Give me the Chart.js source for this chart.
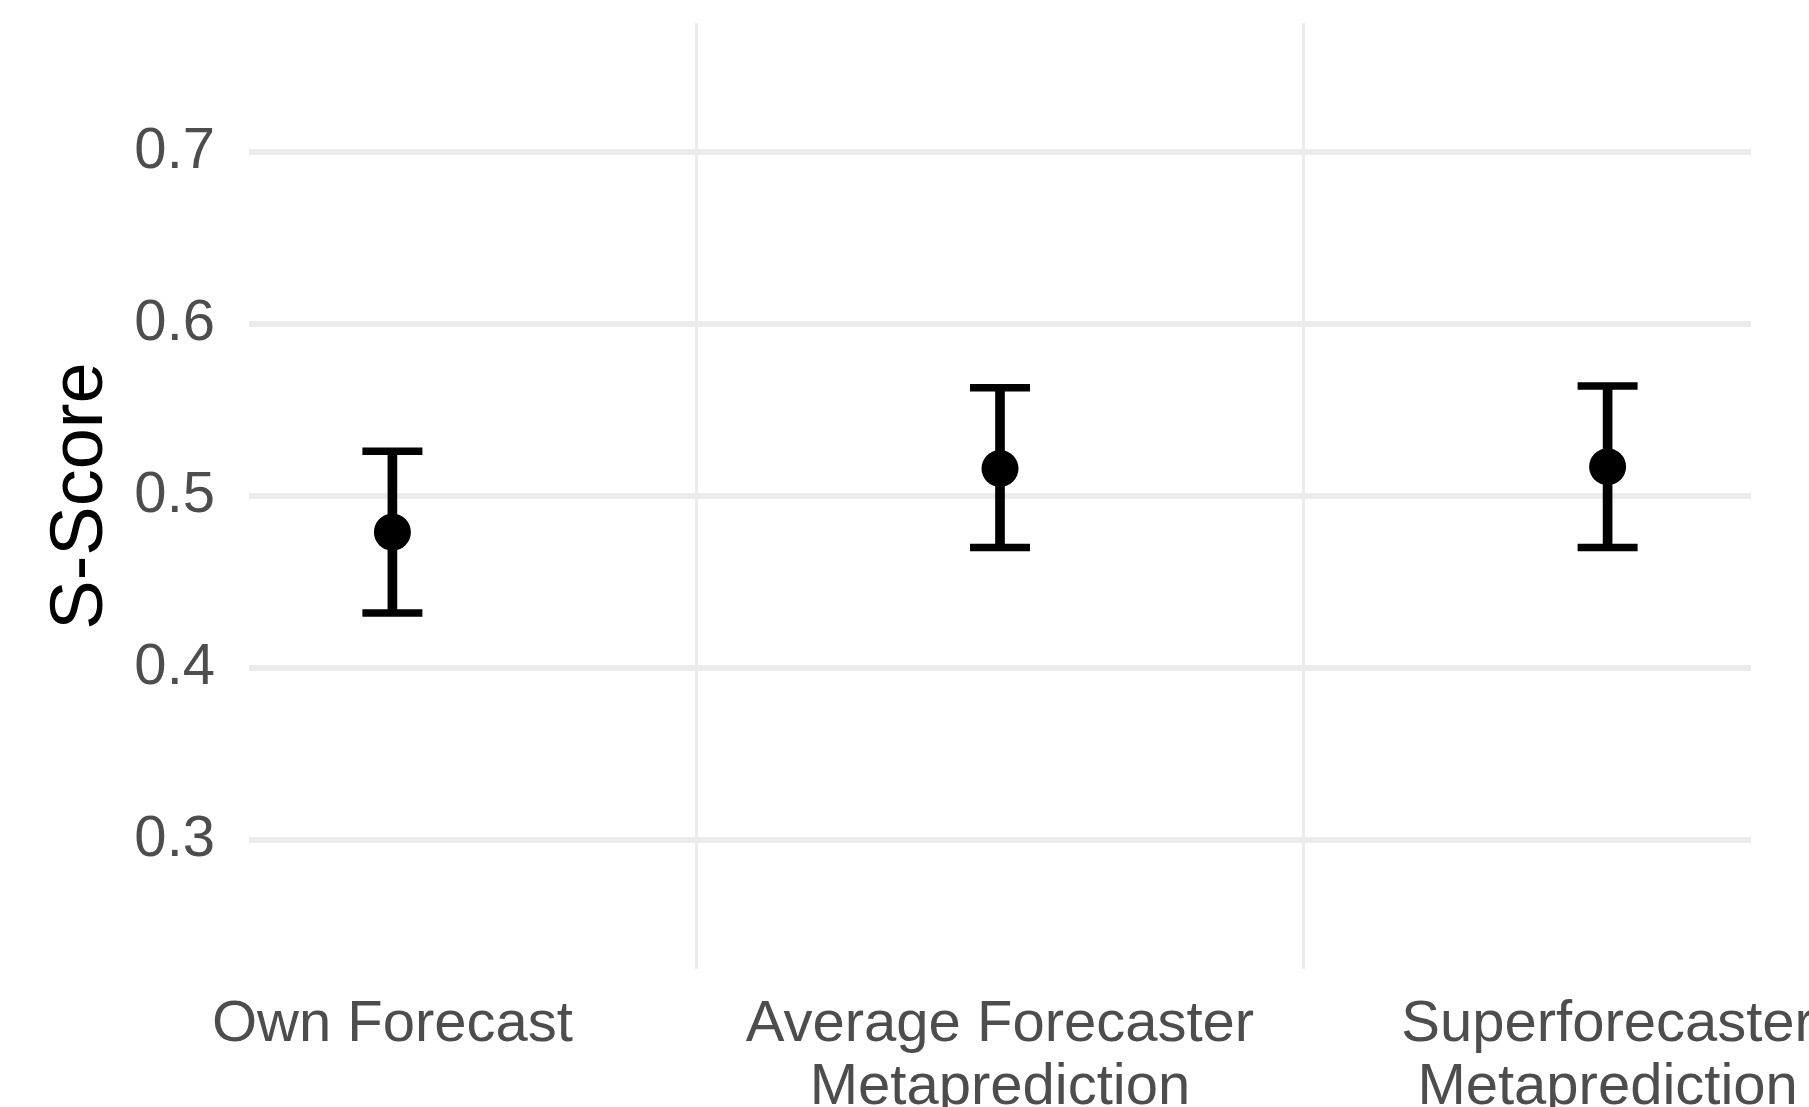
<!DOCTYPE html>
<html>
<head>
<meta charset="utf-8">
<script src="https://cdn.jsdelivr.net/npm/chart.js@4/dist/chart.umd.min.js"></script>
<style>
  body { margin: 0; background: #ffffff; }
  canvas { display: block; }
</style>
</head>
<body>
<canvas id="scoreChart" width="1809" height="1107"></canvas>
<script>
'use strict';

const categories = [
  ['Own Forecast'],
  ['Average Forecaster', 'Metaprediction'],
  ['Superforecaster', 'Metaprediction']
];
const meanScore = [0.479, 0.516, 0.517];
const lowerCI = [0.432, 0.470, 0.470];
const upperCI = [0.526, 0.563, 0.564];
const yTicks = [0.3, 0.4, 0.5, 0.6, 0.7];

const FONT = '"Liberation Sans", Arial, Helvetica, sans-serif';

function ScoreChart(){
  let context = document.querySelector('#scoreChart').getContext('2d')

  // x positions are just the category index (1, 2, 3)
  let points = meanScore.map(function(v, i){ return { x: i + 1, y: v } })
  let caps = upperCI.map(function(v, i){ return { x: i + 1, y: v } })
    .concat(lowerCI.map(function(v, i){ return { x: i + 1, y: v } }))
  let whiskers = lowerCI.map(function(v, i){ return { x: i + 1, y: [v, upperCI[i]] } })

  new Chart(context, {
    type: 'bar',
    data: {
      datasets: [
        {
          type: 'scatter',
          data: points,
          pointRadius: 18.5,
          pointBackgroundColor: '#000000',
          pointBorderWidth: 0,
        },
        {
          type: 'scatter',
          data: caps,
          pointStyle: 'line',
          pointRadius: 30,
          borderColor: '#000000',
          pointBorderWidth: 7.5,
        },
        {
          type: 'bar',
          data: whiskers,
          backgroundColor: '#000000',
          borderWidth: 0,
          barThickness: 9,
        },
      ],
    },
    options: {
      responsive: false,
      animation: false,
      events: [],
      layout: { autoPadding: false, padding: { top: 23, right: 58, bottom: 0, left: 0 } },
      plugins: {
        legend: { display: false },
        tooltip: { enabled: false },
      },
      scales: {
        x: {
          type: 'linear',
          offset: false,
          min: 0.764,
          max: categories.length + 0.236,
          afterBuildTicks: function(scale){
            let t = []
            categories.forEach(function(c, i){
              t.push({ value: i + 1 })
              if (i < categories.length - 1) t.push({ value: i + 1.5 })
            })
            scale.ticks = t
          },
          afterFit: function(scale){
            scale.height = 138
            scale.paddingLeft = 0
            scale.paddingRight = 0
          },
          border: { display: false },
          grid: {
            offset: false,
            drawTicks: false,
            lineWidth: 3,
            color: function(ctx){
              if (!ctx.tick) return 'rgba(0,0,0,0)'
              return Number.isInteger(ctx.tick.value) ? 'rgba(0,0,0,0)' : '#ebebeb'
            },
          },
          ticks: {
            autoSkip: false,
            maxRotation: 0,
            padding: 24,
            color: '#4d4d4d',
            font: { family: FONT, size: 58, lineHeight: 63 / 58 },
            callback: function(value){
              return Number.isInteger(value) ? categories[value - 1] : ''
            },
          },
        },
        y: {
          type: 'linear',
          min: 0.225,
          max: 0.775,
          afterBuildTicks: function(scale){
            scale.ticks = yTicks.map(function(v){ return { value: v } })
          },
          afterFit: function(scale){
            scale.width = 249
            scale.paddingTop = 0
            scale.paddingBottom = 0
          },
          border: { display: false },
          grid: {
            drawTicks: false,
            lineWidth: 6,
            color: '#ebebeb',
          },
          ticks: {
            padding: 34,
            color: '#4d4d4d',
            font: { family: FONT, size: 58 },
            callback: function(value){ return value.toFixed(1) },
          },
          title: {
            display: true,
            text: 'S-Score',
            color: '#000000',
            padding: { top: 45, bottom: 0 },
            font: { family: FONT, size: 74, lineHeight: 1 },
          },
        },
      },
    },
  })
}

ScoreChart()
</script>
</body>
</html>
